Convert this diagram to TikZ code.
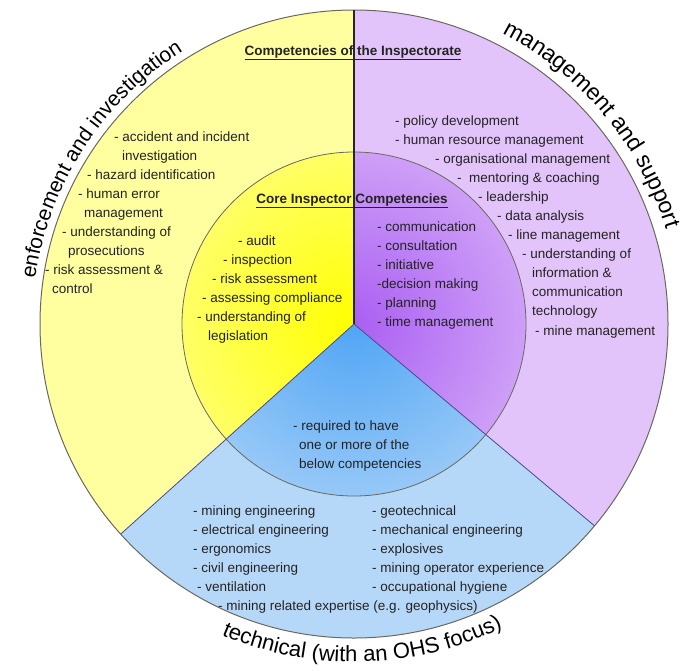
\documentclass[tikz,border=0pt]{standalone}
\usepackage{fontspec}
\setmainfont{Liberation Sans}
\usetikzlibrary{decorations.text}

\definecolor{yellowpale}{RGB}{255,255,160}
\definecolor{yellowcore}{RGB}{255,255,0}
\definecolor{lilacpale}{RGB}{226,196,250}
\definecolor{lilaccore}{RGB}{170,95,242}
\definecolor{skypale}{RGB}{182,216,248}
\definecolor{skycore}{RGB}{80,165,245}
\definecolor{rimline}{RGB}{105,105,95}
\definecolor{inktext}{RGB}{35,35,35}

\newcommand\itemfont{\fontsize{13.5}{16}\selectfont}
\newcommand\arcfont{\fontsize{21}{25}\selectfont}
\newcommand\bigarcfont{\fontsize{23}{27}\selectfont}

\begin{document}
\begin{tikzpicture}[x=1pt, y=1pt,
  item/.style={anchor=base west, inner sep=0pt, font=\itemfont, text=inktext},
  heading/.style={anchor=base, inner sep=0pt, font=\itemfont\bfseries, text=inktext},
  rim/.style={draw=rimline, line width=1pt},
  arclabel/.style={decorate, decoration={text along path, text align=#1}},
  glow/.style 2 args={inner color=#1, outer color=#2}]
\useasboundingbox (0,0) rectangle (682,-670);
\coordinate (c) at (354,-324);
\def\R{314}\def\r{172}

\begin{scope}[shift={(c)}]
  \coordinate (rimN) at (90:\R);
  \coordinate (rimSW) at (222:\R);
  \coordinate (rimSE) at (320:\R);
  % the three outer sectors
  \fill[yellowpale] (0,0) -- (90:\R) arc (90:222:\R) -- cycle;
  \fill[skypale] (0,0) -- (222:\R) arc (222:320:\R) -- cycle;
  \fill[lilacpale] (0,0) -- (320:\R) arc (320:450:\R) -- cycle;
  % stronger colour towards the core
  \begin{scope}
    \clip (0,0) -- (90:\r) arc (90:222:\r) -- cycle;
    \shade[glow={yellowcore}{yellowpale}] (0,0) circle (270);
  \end{scope}
  \begin{scope}
    \clip (0,0) -- (222:\r) arc (222:320:\r) -- cycle;
    \shade[glow={skycore}{skypale}] (0,0) circle (250);
  \end{scope}
  \begin{scope}
    \clip (0,0) -- (320:\r) arc (320:450:\r) -- cycle;
    \shade[glow={lilaccore}{lilacpale}] (0,0) circle (270);
  \end{scope}
  \draw[rimline, line width=0.8pt] (0,0) circle (\r);
  \draw[rim] (0,0) circle (\R);
  % labels round the rim
  \path[arclabel=center, decoration={text={|\arcfont|enforcement and investigation}}]
    (181:322) arc (181:113:322);
  \path[arclabel=left, decoration={text={|\bigarcfont|management and support}}]
    (63:326) arc (63:-5:326);
  \path[arclabel=center, decoration={text={|\fontsize{22}{26}\selectfont|technical (with an OHS focus)}}]
    (240:338) arc (240:303:338);
\end{scope}

\draw[black!85, line width=1.4pt] (c) -- (rimN);
\draw[rimline!70!blue, line width=0.8pt] (c) -- (rimSW);
\draw[rimline!70!blue, line width=0.8pt] (c) -- (rimSE);

\node[heading] (inspectorate) at (353,-55) {\underline{Competencies of the Inspectorate}};
\node[heading] (core) at (352,-203) {\underline{Core Inspector Competencies}};

% enforcement and investigation
\foreach \x/\y/\t [count=\i] in {114/141/- accident and incident, 122/160/investigation,
    87/179/- hazard identification, 78/198/- human error, 84/217/management,
    62/236/- understanding of, 68/255/prosecutions, 45/274/- risk assessment \&,
    52/293/control}
  \node[item] (enf\i) at (\x,-\y) {\t};

% management and support
\foreach \x/\y/\t [count=\i] in {395/125/- policy development,
    395/144/- human resource management, 435/163/- organisational management,
    457/182/-\ \ mentoring \& coaching, 478/201/- leadership, 497/220/- data analysis,
    508/239/- line management, 522/258/- understanding of, 532/277/information \&,
    532/296/communication, 532/315/technology, 535/335/- mine management}
  \node[item] (mgt\i) at (\x,-\y) {\t};

% core, left half
\foreach \x/\y/\t [count=\i] in {238/245/- audit, 223/264/- inspection,
    212/283/- risk assessment, 202/302/- assessing compliance,
    197/321/- understanding of, 208/340/legislation}
  \node[item] (coreL\i) at (\x,-\y) {\t};

% core, right half
\foreach \y/\t [count=\i] in {231/- communication, 250/- consultation, 269/- initiative,
    288/-decision making, 307/- planning, 326/- time management}
  \node[item] (coreR\i) at (377,-\y) {\t};

% technical
\node[item] (tech0) at (293,-430) {- required to have};
\node[item] (tech00) at (299,-449) {one or more of the};
\node[item] (tech000) at (299,-468) {below competencies};
\foreach \x/\y/\t [count=\i] in {193/515/- mining engineering, 193/534/- electrical engineering,
    193/553/- ergonomics, 193/572/- civil engineering, 197/591/- ventilation,
    218/610/- mining related expertise (e.g. geophysics),
    372/515/- geotechnical, 372/534/- mechanical engineering, 372/553/- explosives,
    372/572/- mining operator experience, 372/591/- occupational hygiene}
  \node[item] (tech\i) at (\x,-\y) {\t};
\end{tikzpicture}
\end{document}
